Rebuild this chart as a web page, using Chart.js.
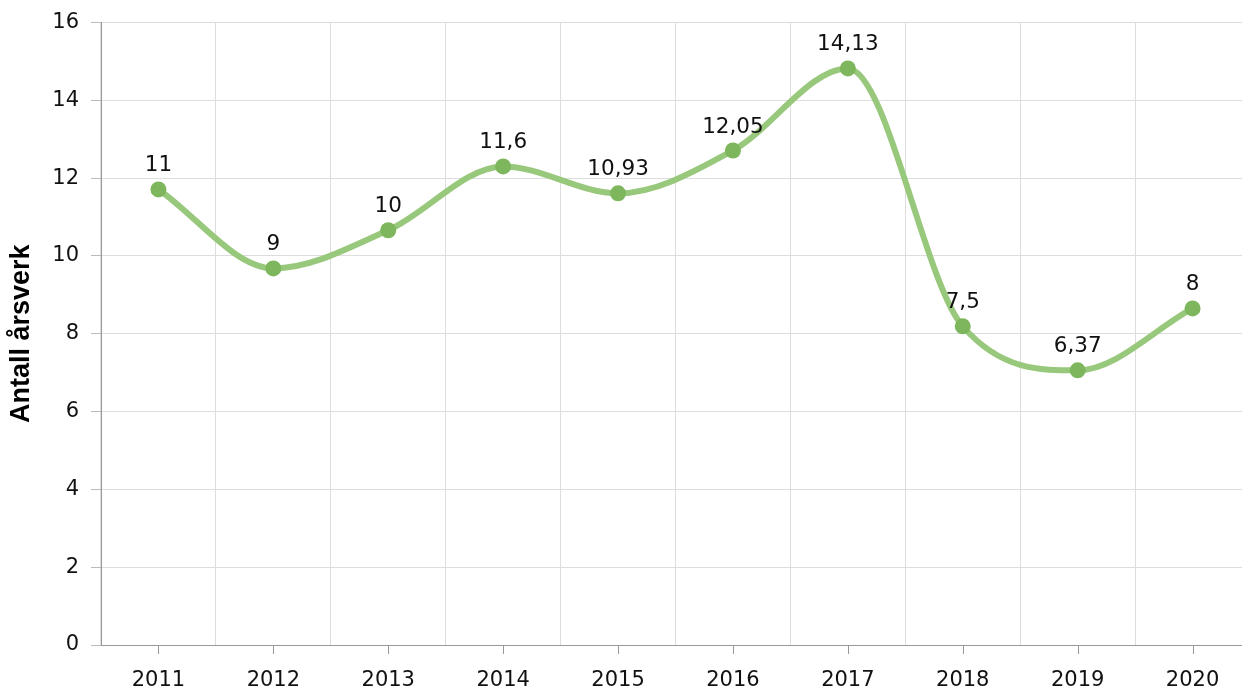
<!DOCTYPE html>
<html>
<head>
<meta charset="utf-8">
<script src="https://cdn.jsdelivr.net/npm/chart.js@4"></script>
<style>
  html, body { margin: 0; padding: 0; background: #fff; overflow: hidden; }
</style>
</head>
<body>
<canvas id="chart" width="1258" height="693"></canvas>
<script>
// DATA
const years = ['2011', '2012', '2013', '2014', '2015', '2016', '2017', '2018', '2019', '2020'];
const plotted = [11.71, 9.68, 10.66, 12.3, 11.61, 12.71, 14.82, 8.19, 7.06, 8.65];
const valueLabels = ['11', '9', '10', '11,6', '10,93', '12,05', '14,13', '7,5', '6,37', '8'];
const yTicks = [0, 2, 4, 6, 8, 10, 12, 14, 16];

const tickFont = { family: 'DejaVu Sans', size: 21 };

// labels above points + tick marks under x axis at category centres
const extras = {
    id: 'extras',
    afterDatasetsDraw(chart) {
        const ctx = chart.ctx;
        const meta = chart.getDatasetMeta(0);
        ctx.save();
        ctx.font = '21.5px "DejaVu Sans"';
        ctx.fillStyle = '#111';
        ctx.textAlign = 'center';
        ctx.textBaseline = 'alphabetic';
        meta.data.forEach((pt, i) => {
            ctx.fillText(valueLabels[i], pt.x, pt.y - 18);
        });
        const xs = chart.scales.x;
        const bottom = chart.chartArea.bottom;
        ctx.strokeStyle = '#999';
        ctx.lineWidth = 1;
        years.forEach((_, i) => {
            const x = Math.round(xs.getPixelForValue(i)) + 0.5;
            ctx.beginPath();
            ctx.moveTo(x, bottom);
            ctx.lineTo(x, bottom + 9);
            ctx.stroke();
        });
        ctx.restore();
    }
};

new Chart(document.getElementById('chart'), {
    type: 'line',
    data: {
        labels: years,
        datasets: [{
            data: plotted,
            borderColor: '#98c87b',
            borderWidth: 6,
            cubicInterpolationMode: 'monotone',
            pointRadius: 8,
            pointHoverRadius: 8,
            pointBackgroundColor: '#7db65c',
            pointBorderWidth: 0,
            fill: false
        }]
    },
    options: {
        responsive: false,
        animation: false,
        layout: { padding: { top: 20, right: 3, left: 0, bottom: 0 } },
        plugins: { legend: { display: false }, tooltip: { enabled: false } },
        scales: {
            x: {
                offset: true,
                grid: { offset: true, color: '#dddddd', drawTicks: false },
                border: { color: '#999', width: 1 },
                ticks: { color: '#111', font: tickFont, padding: 23, maxRotation: 0 },
                afterFit(s) { s.height = 48; }
            },
            y: {
                min: 0,
                max: 16,
                afterBuildTicks(s) { s.ticks = yTicks.map(v => ({ value: v })); },
                grid: { color: '#dddddd', tickLength: 10, tickColor: '#bbb' },
                border: { color: '#999', width: 1 },
                ticks: { color: '#111', font: { family: 'DejaVu Sans', size: 21, lineHeight: 1 }, padding: 12 },
                title: {
                    display: true,
                    text: 'Antall årsverk',
                    color: '#000',
                    font: { family: 'Liberation Sans', size: 27, weight: 'bold', lineHeight: 1 },
                    padding: { top: 8 }
                },
                afterFit(s) { s.width = 101; }
            }
        }
    },
    plugins: [extras]
});
</script>
</body>
</html>
